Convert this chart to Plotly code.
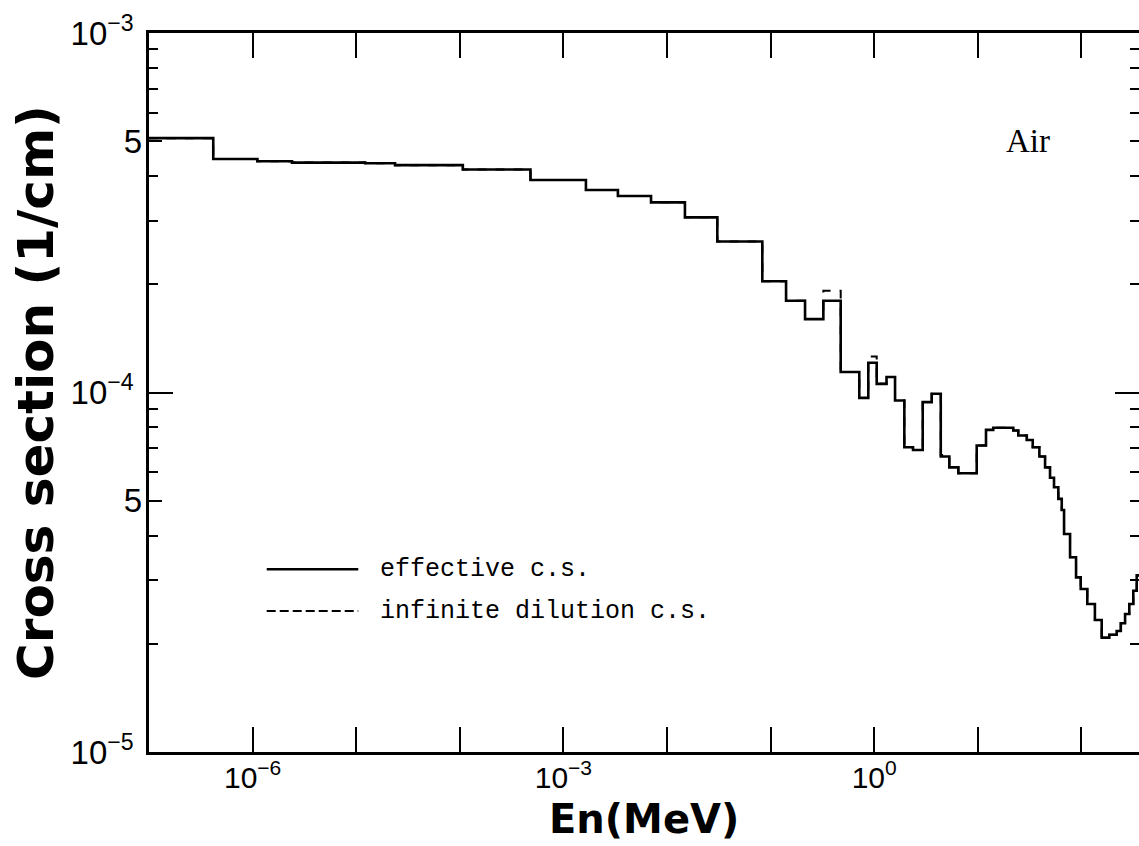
import plotly.graph_objects as go

# Energy group boundaries (MeV)
energy_edges = [1e-7, 4.17e-7, 1.11e-6, 2.40e-6, 1.22e-5, 2.37e-5, 1.07e-4, 4.81e-4,
                1.65e-3, 3.36e-3, 7.01e-3, 1.49e-2, 3.06e-2, 8.32e-2, 0.141, 0.215,
                0.323, 0.475, 0.718, 0.877, 1.057, 1.315, 1.589, 1.954, 2.37, 2.94,
                3.59, 4.39, 5.31, 6.49, 9.76, 12.0, 14.1, 22.0, 24.6, 29.7, 33.9,
                39.3, 44.6, 49.8, 54.4, 59.9, 64.6, 68.0, 77.7, 88.8, 98.5, 114,
                135, 157, 186, 219, 240, 264, 290, 317, 342, 400]

# Effective cross section per group (1/cm)
sigma_effective = [5.10e-4, 4.46e-4, 4.40e-4, 4.36e-4, 4.34e-4, 4.29e-4, 4.17e-4,
                   3.90e-4, 3.66e-4, 3.52e-4, 3.38e-4, 3.07e-4, 2.63e-4, 2.04e-4,
                   1.80e-4, 1.60e-4, 1.80e-4, 1.14e-4, 9.66e-5, 1.21e-4, 1.057e-4,
                   1.104e-4, 9.50e-5, 7.04e-5, 6.92e-5, 9.40e-5, 9.92e-5, 6.64e-5,
                   6.19e-5, 5.96e-5, 7.12e-5, 7.87e-5, 7.98e-5, 7.84e-5, 7.59e-5,
                   7.38e-5, 7.04e-5, 6.64e-5, 6.19e-5, 5.79e-5, 5.45e-5, 5.06e-5,
                   4.71e-5, 4.04e-5, 3.48e-5, 3.06e-5, 2.84e-5, 2.58e-5, 2.33e-5,
                   2.08e-5, 2.12e-5, 2.17e-5, 2.28e-5, 2.42e-5, 2.58e-5, 2.81e-5,
                   3.10e-5]

# Infinite dilution cross section per group (1/cm)
sigma_infinite = [5.10e-4, 4.46e-4, 4.40e-4, 4.36e-4, 4.34e-4, 4.29e-4, 4.17e-4,
                  3.90e-4, 3.66e-4, 3.52e-4, 3.38e-4, 3.07e-4, 2.63e-4, 2.04e-4,
                  1.80e-4, 1.60e-4, 1.92e-4, 1.14e-4, 9.66e-5, 1.26e-4, 1.057e-4,
                  1.104e-4, 9.50e-5, 7.04e-5, 6.92e-5, 9.40e-5, 9.92e-5, 6.70e-5,
                  6.19e-5, 5.96e-5, 7.12e-5, 7.87e-5, 7.98e-5, 7.84e-5, 7.59e-5,
                  7.38e-5, 7.04e-5, 6.64e-5, 6.19e-5, 5.79e-5, 5.45e-5, 5.06e-5,
                  4.71e-5, 4.04e-5, 3.48e-5, 3.06e-5, 2.84e-5, 2.58e-5, 2.33e-5,
                  2.08e-5, 2.12e-5, 2.17e-5, 2.28e-5, 2.42e-5, 2.58e-5, 2.81e-5,
                  3.10e-5]

x_tickvals = [1e-6, 1e-3, 1e0]
x_ticktext = ["10<sup>−6</sup>", "10<sup>−3</sup>", "10<sup>0</sup>"]
x_minorvals = [1e-5, 1e-4, 1e-2, 1e-1, 1e1, 1e2]
y_tickvals = [1e-5, 1e-4, 1e-3]
y_ticktext = ["10<sup>−5</sup>", "10<sup>−4</sup>", "10<sup>−3</sup>"]
y_fivevals = [5e-5, 5e-4]
y_fivetext = ["5", "5"]
y_minorvals = [k * 10.0 ** e for e in (-5, -4) for k in (2, 3, 4, 6, 7, 8, 9)]
y_minorvals_right = [k * 10.0 ** e for e in (-5, -4) for k in (2, 3, 4, 5, 6, 7, 8, 9)]

x_title = "En(MeV)"
y_title = "Cross section (1/cm)"
legend_labels = ["effective c.s.", "infinite dilution c.s."]
material_label = "Air"

fig = go.Figure()
# helper (invisible) so that the left "5" tick axis is drawn
fig.add_trace(go.Scatter(
    x=[energy_edges[0]], y=[sigma_effective[0]], mode="markers",
    marker=dict(opacity=0, size=1), yaxis="y2", showlegend=False, hoverinfo="skip"))
# infinite dilution c.s. (dashed) on the right-side tick axis
fig.add_trace(go.Scatter(
    x=energy_edges, y=sigma_infinite + [sigma_infinite[-1]],
    mode="lines", line=dict(shape="hv", color="black", width=2, dash="dash"),
    yaxis="y3", showlegend=False, hoverinfo="skip"))
# effective c.s. (solid) on the main axis
fig.add_trace(go.Scatter(
    x=energy_edges, y=sigma_effective + [sigma_effective[-1]],
    mode="lines", line=dict(shape="hv", color="black", width=2.6),
    yaxis="y", showlegend=False))

xtickfont = dict(family="Liberation Sans, Arial, sans-serif", size=30, color="black")
ytickfont = dict(family="Liberation Sans, Arial, sans-serif", size=33, color="black")
yrange = [-5, -3]

fig.update_layout(
    width=1139, height=846,
    margin=dict(l=149, r=0, t=33, b=94),
    paper_bgcolor="white", plot_bgcolor="white",
    showlegend=False,
    xaxis=dict(
        type="log", range=[-7, 2.556],
        tickmode="array", tickvals=x_tickvals, ticktext=x_ticktext,
        ticks="inside", ticklen=25, tickwidth=2, tickcolor="black",
        minor=dict(tickvals=x_minorvals, ticks="inside", ticklen=25, tickwidth=2,
                   tickcolor="black", showgrid=False),
        showline=True, linewidth=2.5, linecolor="black", mirror="ticks",
        showgrid=False, zeroline=False, tickfont=xtickfont,
        ticklabelstandoff=-3,
    ),
    yaxis=dict(
        type="log", range=yrange,
        tickmode="array", tickvals=y_tickvals, ticktext=y_ticktext,
        ticks="inside", ticklen=24, tickwidth=2, tickcolor="black",
        minor=dict(tickvals=y_minorvals, ticks="inside", ticklen=9, tickwidth=2,
                   tickcolor="black", showgrid=False),
        showline=True, linewidth=2.5, linecolor="black", mirror=False,
        showgrid=False, zeroline=False, tickfont=ytickfont,
        ticklabelstandoff=6,
        title=dict(text=y_title, standoff=2,
                   font=dict(family="DejaVu Sans", size=50, color="black", weight="bold")),
    ),
    yaxis2=dict(
        type="log", range=yrange, overlaying="y", side="left",
        tickmode="array", tickvals=y_fivevals, ticktext=y_fivetext,
        ticks="inside", ticklen=13, tickwidth=2, tickcolor="black",
        showline=False, showgrid=False, zeroline=False,
        tickfont=ytickfont, ticklabelstandoff=6,
    ),
    yaxis3=dict(
        type="log", range=yrange, overlaying="y", side="right",
        tickmode="array", tickvals=y_tickvals, showticklabels=False,
        ticks="inside", ticklen=24, tickwidth=2, tickcolor="black",
        minor=dict(tickvals=y_minorvals_right, ticks="inside", ticklen=9, tickwidth=2,
                   tickcolor="black", showgrid=False),
        showline=False, showgrid=False, zeroline=False,
    ),
)

# x-axis title
fig.add_annotation(text=x_title, xref="paper", yref="paper", x=0.5, y=-0.093,
                   xanchor="center", yanchor="middle", showarrow=False,
                   font=dict(family="DejaVu Sans", size=40, color="black", weight="bold"))

# Legend (drawn manually inside the plot)
fig.add_shape(type="line", xref="paper", yref="paper", x0=0.1189, x1=0.2114,
              y0=0.2541, y1=0.2541, line=dict(color="black", width=2.5))
fig.add_shape(type="line", xref="paper", yref="paper", x0=0.1189, x1=0.2114,
              y0=0.1961, y1=0.1961, line=dict(color="black", width=2, dash="9px,4px"))
legend_font = dict(family="Liberation Mono, Courier New, monospace", size=25, color="black")
fig.add_annotation(text=legend_labels[0], xref="paper", yref="paper", x=0.2313, y=0.2541,
                   xanchor="left", yanchor="middle", showarrow=False, font=legend_font)
fig.add_annotation(text=legend_labels[1], xref="paper", yref="paper", x=0.2313, y=0.1961,
                   xanchor="left", yanchor="middle", showarrow=False, font=legend_font)
fig.add_annotation(text=material_label, xref="paper", yref="paper", x=0.8879, y=0.8498,
                   xanchor="center", yanchor="middle", showarrow=False,
                   font=dict(family="Liberation Serif, Times New Roman, serif", size=33, color="black"))

fig.write_html("out.html")
